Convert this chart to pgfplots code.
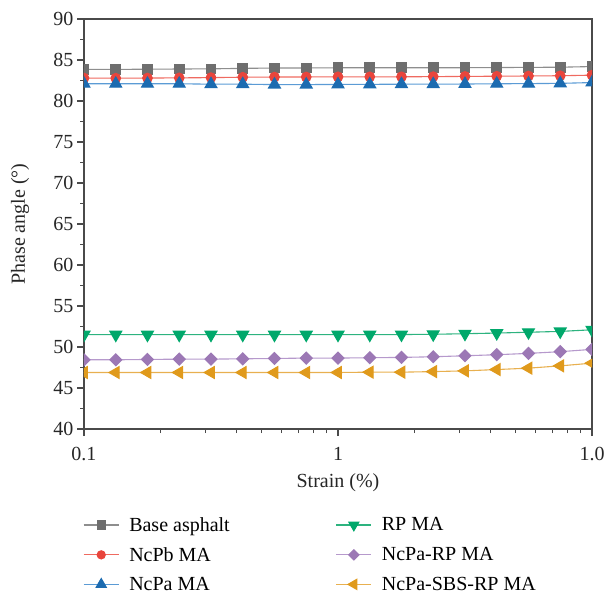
\documentclass[border=0pt]{standalone}
\usepackage{fontspec}
\setmainfont{Liberation Serif}
\usepackage{pgfplots}
\pgfplotsset{compat=1.18}

\definecolor{axisgray}{HTML}{4A4A4A}
\definecolor{cBaseM}{HTML}{6E6E6E}
\definecolor{cBaseL}{HTML}{8E8E8E}
\definecolor{cPbM}{HTML}{E8453C}
\definecolor{cPbL}{HTML}{EF6A60}
\definecolor{cPaM}{HTML}{1C6BB0}
\definecolor{cPaL}{HTML}{5B9BD5}
\definecolor{cRPM}{HTML}{00A86B}
\definecolor{cRPL}{HTML}{2DB37F}
\definecolor{cPaRPM}{HTML}{9C78B5}
\definecolor{cPaRPL}{HTML}{B699CC}
\definecolor{cSBSM}{HTML}{E09A1C}
\definecolor{cSBSL}{HTML}{E8B050}

\begin{document}
\begin{tikzpicture}[font=\fontsize{20bp}{23bp}\selectfont]
\path[use as bounding box] (0bp,0bp) rectangle (606bp,595bp);
\begin{axis}[
  at={(84bp,166bp)}, anchor=south west,
  scale only axis, width=508bp, height=410bp,
  xmode=log, xmin=0.1, xmax=10, ymin=40, ymax=90,
  xtick={0.1,1,10}, xticklabels={0.1,1,1.0},
  ytick={40,45,...,90}, minor y tick num=1,
  /pgf/number format/assume math mode=true,
  tick pos=left, tick align=outside,
  major tick length=7bp, minor tick length=4bp,
  axis line style={axisgray, line width=1.2bp},
  every tick/.style={axisgray, line width=1.1bp},
  tick label style={font=\fontsize{20bp}{23bp}\selectfont, text=black!85},
  xticklabel style={yshift=-8bp},
  label style={font=\fontsize{20bp}{23bp}\selectfont, text=black!85},
  xlabel={Strain (\%)},
  ylabel={Phase angle (°)},
  xlabel style={at={(axis description cs:0.5,-0.132)}, anchor=center},
  ylabel style={at={(axis description cs:-0.126,0.5)}, anchor=center},
  clip marker paths=true,
  every axis plot/.append style={line width=1.1bp},
  legend columns=3, transpose legend,
  legend style={at={(axis description cs:-0.002,-0.21)}, anchor=north west,
    draw=none, fill=none, font=\fontsize{20bp}{23bp}\selectfont,
    row sep=10.5bp, inner sep=0pt,
    /tikz/every odd column/.append style={column sep=8bp},
    /tikz/every even column/.append style={column sep=104bp}},
  legend cell align=left,
  legend image post style={every mark/.append style={scale=0.85}},
  legend image code/.code={
    \draw[mark repeat=2,mark phase=2] plot coordinates {(0bp,0bp)(17.5bp,0bp)(35bp,0bp)};
  },
]
\addplot[cBaseL, mark=square*, mark size=4.8bp, mark options={cBaseM, fill=cBaseM}] coordinates {
(0.1,83.85)(0.1334,83.85)(0.1778,83.88)(0.2371,83.9)(0.3162,83.92)(0.4217,83.98)
(0.5623,84.02)(0.7499,84.03)(1,84.05)(1.334,84.05)(1.778,84.05)(2.371,84.05)
(3.162,84.06)(4.217,84.08)(5.623,84.1)(7.499,84.12)(10,84.2)};
\addlegendentry{Base asphalt}
\addplot[cPbL, mark=*, mark size=4.8bp, mark options={cPbM, fill=cPbM}] coordinates {
(0.1,82.8)(0.1334,82.78)(0.1778,82.8)(0.2371,82.82)(0.3162,82.85)(0.4217,82.9)
(0.5623,82.92)(0.7499,82.93)(1,82.95)(1.334,82.95)(1.778,82.95)(2.371,82.97)
(3.162,83.0)(4.217,83.02)(5.623,83.05)(7.499,83.08)(10,83.15)};
\addlegendentry{NcPb MA}
\addplot[cPaL, mark=triangle*, mark size=6.8bp, mark options={cPaM, fill=cPaM}] coordinates {
(0.1,82.1)(0.1334,82.1)(0.1778,82.1)(0.2371,82.1)(0.3162,82.05)(0.4217,82.05)
(0.5623,82.0)(0.7499,82.0)(1,82.02)(1.334,82.03)(1.778,82.05)(2.371,82.05)
(3.162,82.07)(4.217,82.1)(5.623,82.12)(7.499,82.15)(10,82.25)};
\addlegendentry{NcPa MA}
\addplot[cRPL, mark=triangle*, mark size=6.8bp, mark options={cRPM, fill=cRPM, rotate=180}] coordinates {
(0.1,51.5)(0.1334,51.5)(0.1778,51.5)(0.2371,51.5)(0.3162,51.5)(0.4217,51.5)
(0.5623,51.5)(0.7499,51.5)(1,51.5)(1.334,51.5)(1.778,51.52)(2.371,51.55)
(3.162,51.62)(4.217,51.7)(5.623,51.8)(7.499,51.9)(10,52.1)};
\addlegendentry{RP MA}
\addplot[cPaRPL, mark=square*, mark size=4.2bp, mark options={cPaRPM, fill=cPaRPM, rotate=45}] coordinates {
(0.1,48.44)(0.1334,48.44)(0.1778,48.48)(0.2371,48.52)(0.3162,48.52)(0.4217,48.56)
(0.5623,48.6)(0.7499,48.65)(1,48.65)(1.334,48.69)(1.778,48.73)(2.371,48.81)
(3.162,48.93)(4.217,49.06)(5.623,49.22)(7.499,49.43)(10,49.71)};
\addlegendentry{NcPa-RP MA}
\addplot[cSBSL, mark=triangle*, mark size=6.8bp, mark options={cSBSM, fill=cSBSM, rotate=90}] coordinates {
(0.1,46.89)(0.1334,46.89)(0.1778,46.89)(0.2371,46.89)(0.3162,46.89)(0.4217,46.89)
(0.5623,46.89)(0.7499,46.89)(1,46.89)(1.334,46.93)(1.778,46.93)(2.371,47.0)
(3.162,47.09)(4.217,47.25)(5.623,47.42)(7.499,47.7)(10,48.03)};
\addlegendentry{NcPa-SBS-RP MA}
\end{axis}
\end{tikzpicture}
\end{document}
